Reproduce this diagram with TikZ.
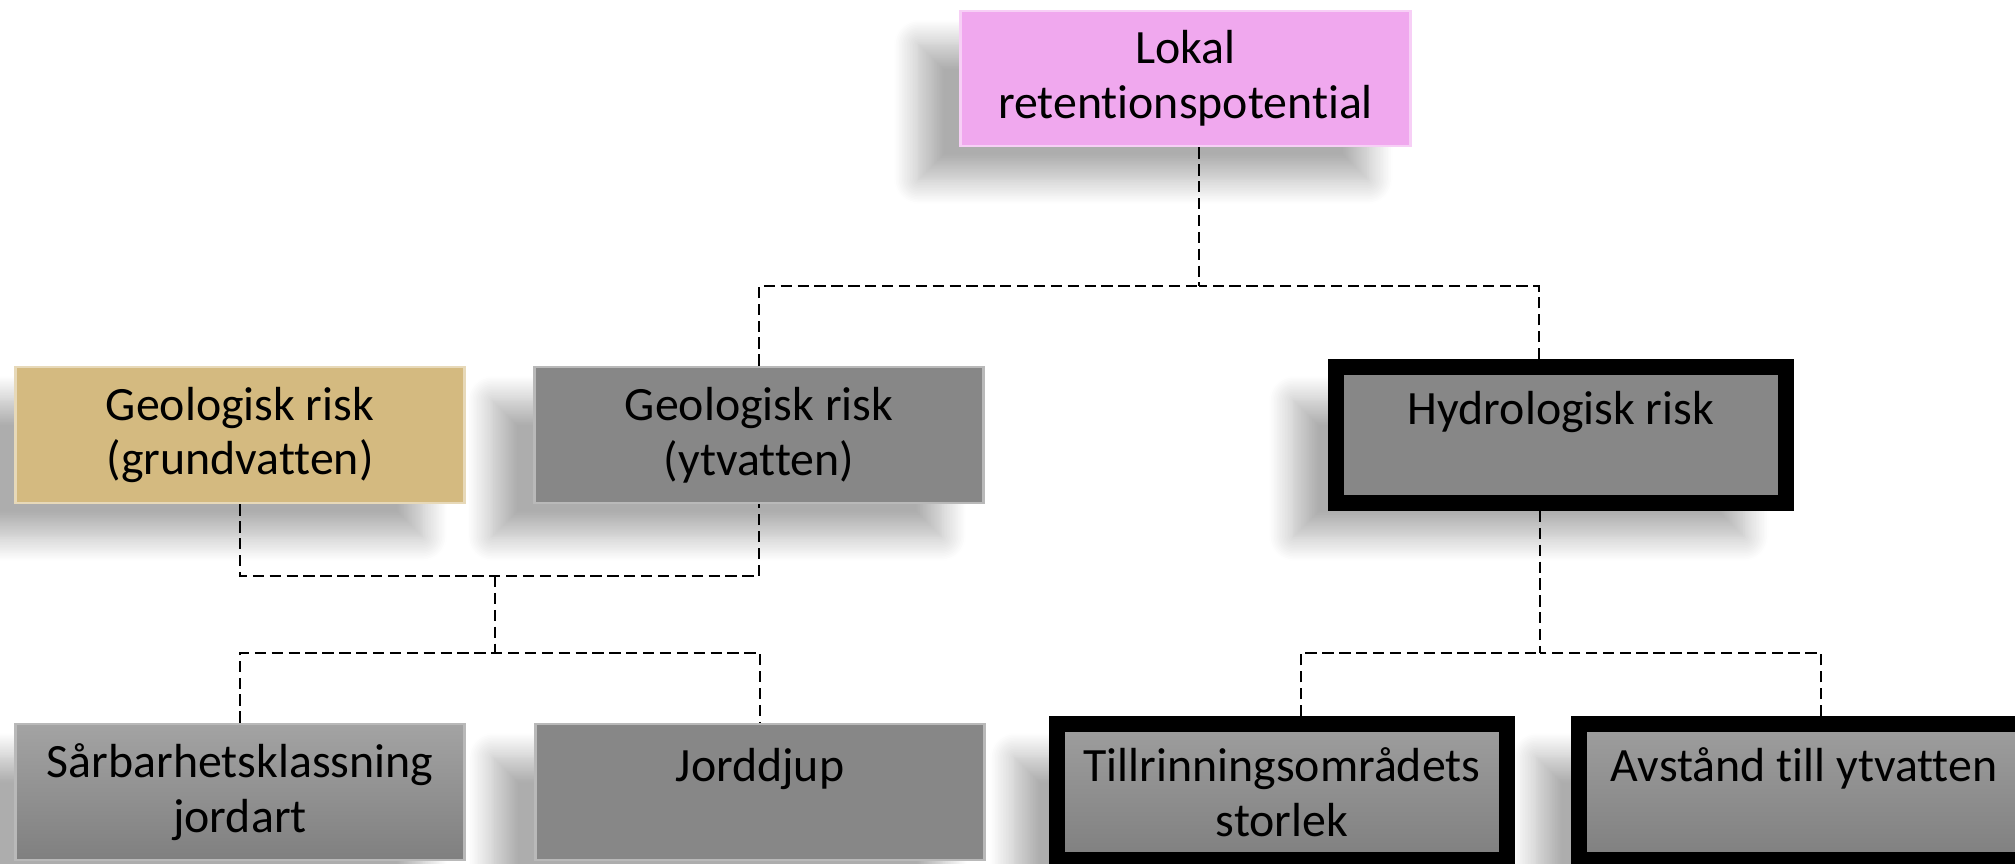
\documentclass[tikz,border=0pt]{standalone}
\usepackage{fontspec}
\setmainfont[Ligatures=NoCommon]{Carlito}
\usetikzlibrary{shadows.blur}

\definecolor{lokpink}{RGB}{240,168,238}
\definecolor{geotan}{RGB}{212,186,128}
\definecolor{boxgray}{RGB}{135,135,135}

\begin{document}
\begin{tikzpicture}[x=0.01cm, y=-0.01cm,
    box/.style={minimum width=4.49cm, minimum height=1.36cm, inner sep=0pt,
      align=center, font=\fontsize{13.6}{15.5}\selectfont,
      blur shadow={shadow xshift=-12pt, shadow yshift=-9.5pt,
        shadow blur radius=7pt, shadow blur steps=16, shadow opacity=32}},
    plain/.style={box, fill=boxgray, draw=gray!55, line width=0.8pt},
    shade/.style={box, top color=black!36, bottom color=black!50, draw=gray!55, line width=0.8pt},
    heavy/.style={box, minimum width=4.5cm, top color=black!38, bottom color=black!50,
      draw=black, line width=4.5pt},
    link/.style={draw=black, line width=0.6pt, dash pattern=on 3.2pt off 1.6pt}]

    \path[use as bounding box, clip] (0,0) rectangle (2015,864);

    \node (lok) at (1185.5,78.5) [box, minimum height=1.35cm, fill=lokpink,
      draw=lokpink!55!white, line width=0.8pt] {Lokal\\retentionspotential};

    \node (geo1) at (240,435) [box, fill=geotan, draw=geotan!55!white, line width=0.8pt]
      {Geologisk risk\\(grundvatten)};
    \node (geo2) at (759,435) [plain] {Geologisk risk\\(ytvatten)};
    \node (hyd) at (1561,435) [heavy, top color=boxgray, bottom color=boxgray]
      {Hydrologisk risk\\\mbox{}};

    \node (sb) at (240,792) [shade] {Sårbarhetsklassning\\jordart};
    \node (jd) at (760,792) [plain] {Jorddjup\\\mbox{}};
    \node (ti) at (1282,792) [heavy] {Tillrinningsområdets\\storlek};
    \node (av) at (1804,792) [heavy] {Avstånd till ytvatten\\\mbox{}};

    \coordinate (t) at (1199,286);
    \coordinate (t2) at (1539,286);
    \coordinate (m1) at (495,576);
    \coordinate (m2) at (495,653);
    \coordinate (h) at (1540,653);
    \coordinate (h1) at (1301,653);
    \coordinate (h2) at (1821,653);

    \draw[link] (lok.south -| t) -- (t);
    \draw[link] (geo2.north) |- (t);
    \draw[link] (hyd.north -| t2) |- (t);

    \draw[link] (geo1.south) |- (m1) -| (geo2.south);
    \draw[link] (m1) -- (m2);
    \draw[link] (sb.north) |- (m2) -| (jd.north);

    \draw[link] (hyd.south -| h) -- (h);
    \draw[link] (ti.north -| h1) |- (h);
    \draw[link] (av.north -| h2) |- (h);
\end{tikzpicture}
\end{document}
